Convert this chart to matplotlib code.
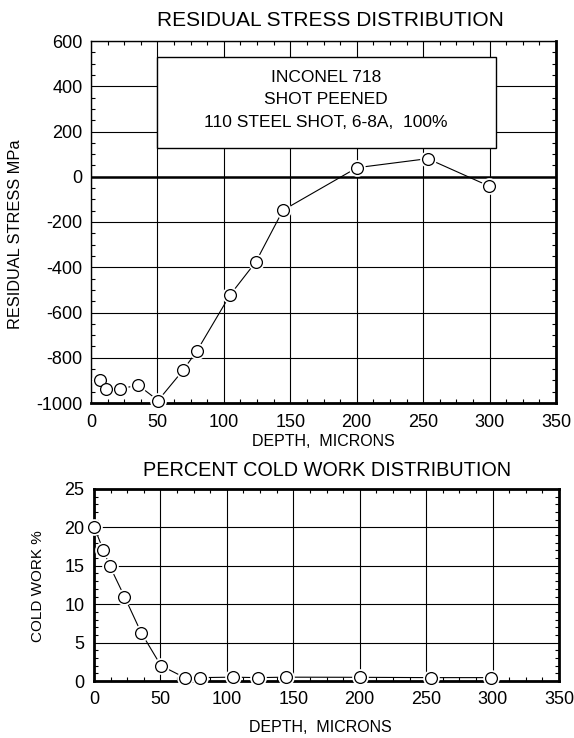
import matplotlib
matplotlib.use("Agg")
import matplotlib.pyplot as plt
from matplotlib.patches import Rectangle
from matplotlib.ticker import MultipleLocator

# Residual stress vs depth
stress_depth = [6.6, 11.6, 21.8, 35.3, 50.5, 69.2, 79.7, 104.5, 124.1, 144.5, 200.2, 253.4, 299.5]
stress_mpa = [-897, -939, -939, -920, -989, -856, -770, -524, -376, -148, 40, 80, -41]

# Percent cold work vs depth
cw_depth = [0, 6.9, 11.8, 22.9, 35.5, 50.4, 68.3, 79.6, 104.4, 123.7, 144.6, 200.5, 253.4, 298.5]
cold_work = [20.1, 17.1, 15.0, 11.0, 6.3, 2.0, 0.44, 0.44, 0.5, 0.44, 0.5, 0.48, 0.44, 0.44]

box_lines = ["INCONEL 718", "SHOT PEENED", "110 STEEL SHOT, 6-8A,  100%"]

plt.rcParams['font.family'] = ['Liberation Sans', 'DejaVu Sans']
plt.rcParams['axes.unicode_minus'] = False

W, H = 574, 738
fig = plt.figure(figsize=(W / 100, H / 100), dpi=100)


def rect(left, top, right, bottom):
    return [left / W, 1 - bottom / H, (right - left) / W, (bottom - top) / H]


def ftext(x, y, s, **kw):
    fig.text(x / W, 1 - y / H, s, ha='center', va='center', **kw)


def draw_series(ax, x, y):
    ax.plot(x, y, color='black', lw=0.8, zorder=3)
    # white halo so the line stops short of each circle
    ax.plot(x, y, ls='none', marker='o', ms=9.5, mfc='white', mec='white', mew=2.5,
            zorder=4, clip_on=False)
    ax.plot(x, y, ls='none', marker='o', ms=8.5, mfc='white', mec='black', mew=0.9,
            zorder=5, clip_on=False)


def style_axes(ax, xminor, yminor):
    ax.grid(True, which='major', color='black', lw=0.8)
    ax.set_axisbelow(True)
    ax.xaxis.set_minor_locator(MultipleLocator(xminor))
    ax.yaxis.set_minor_locator(MultipleLocator(yminor))
    ax.tick_params(which='major', length=0, labelsize=13)
    ax.tick_params(which='minor', direction='in', length=3, width=0.8,
                   top=True, right=True)


# ---- top: residual stress ----
ax1 = fig.add_axes(rect(91, 41, 556, 403))
draw_series(ax1, stress_depth, stress_mpa)
ax1.set_xlim(0, 350)
ax1.set_ylim(-1000, 600)
ax1.xaxis.set_major_locator(MultipleLocator(50))
ax1.yaxis.set_major_locator(MultipleLocator(200))
style_axes(ax1, 12.5, 50)
ax1.tick_params(axis='x', which='major', pad=8)
ax1.tick_params(axis='y', which='major', pad=6)
ax1.axhline(0, color='black', lw=1.8, zorder=2)
for side, lw in [('left', 1.0), ('top', 1.0), ('right', 2.0), ('bottom', 2.0)]:
    ax1.spines[side].set_linewidth(lw)

ax1.add_patch(Rectangle((50, 126), 254.5, 402, facecolor='white', edgecolor='black',
                        lw=1.0, zorder=6))
for i, line in enumerate(box_lines):
    ax1.text(177, 440 - i * 100, line, ha='center', va='center', fontsize=12.5, zorder=7)

ftext(330, 20, "RESIDUAL STRESS DISTRIBUTION", fontsize=15)
ftext(323, 441, "DEPTH,  MICRONS", fontsize=11.5)
ftext(16, 234, "RESIDUAL STRESS MPa", fontsize=11.8, rotation=90)

# ---- bottom: cold work ----
ax2 = fig.add_axes(rect(94, 489, 559, 681))
draw_series(ax2, cw_depth, cold_work)
ax2.set_xlim(0, 350)
ax2.set_ylim(0, 25)
ax2.xaxis.set_major_locator(MultipleLocator(50))
ax2.yaxis.set_major_locator(MultipleLocator(5))
style_axes(ax2, 12.5, 1)
ax2.tick_params(axis='x', which='major', pad=7)
ax2.tick_params(axis='y', which='major', pad=7)
for side in ['left', 'top', 'right', 'bottom']:
    ax2.spines[side].set_linewidth(2.0)

ftext(327, 470, "PERCENT COLD WORK DISTRIBUTION", fontsize=14.3)
ftext(320, 728, "DEPTH,  MICRONS", fontsize=11.5)
ftext(38, 586, "COLD WORK %", fontsize=11, rotation=90)

fig.savefig("out.png", dpi=100)
